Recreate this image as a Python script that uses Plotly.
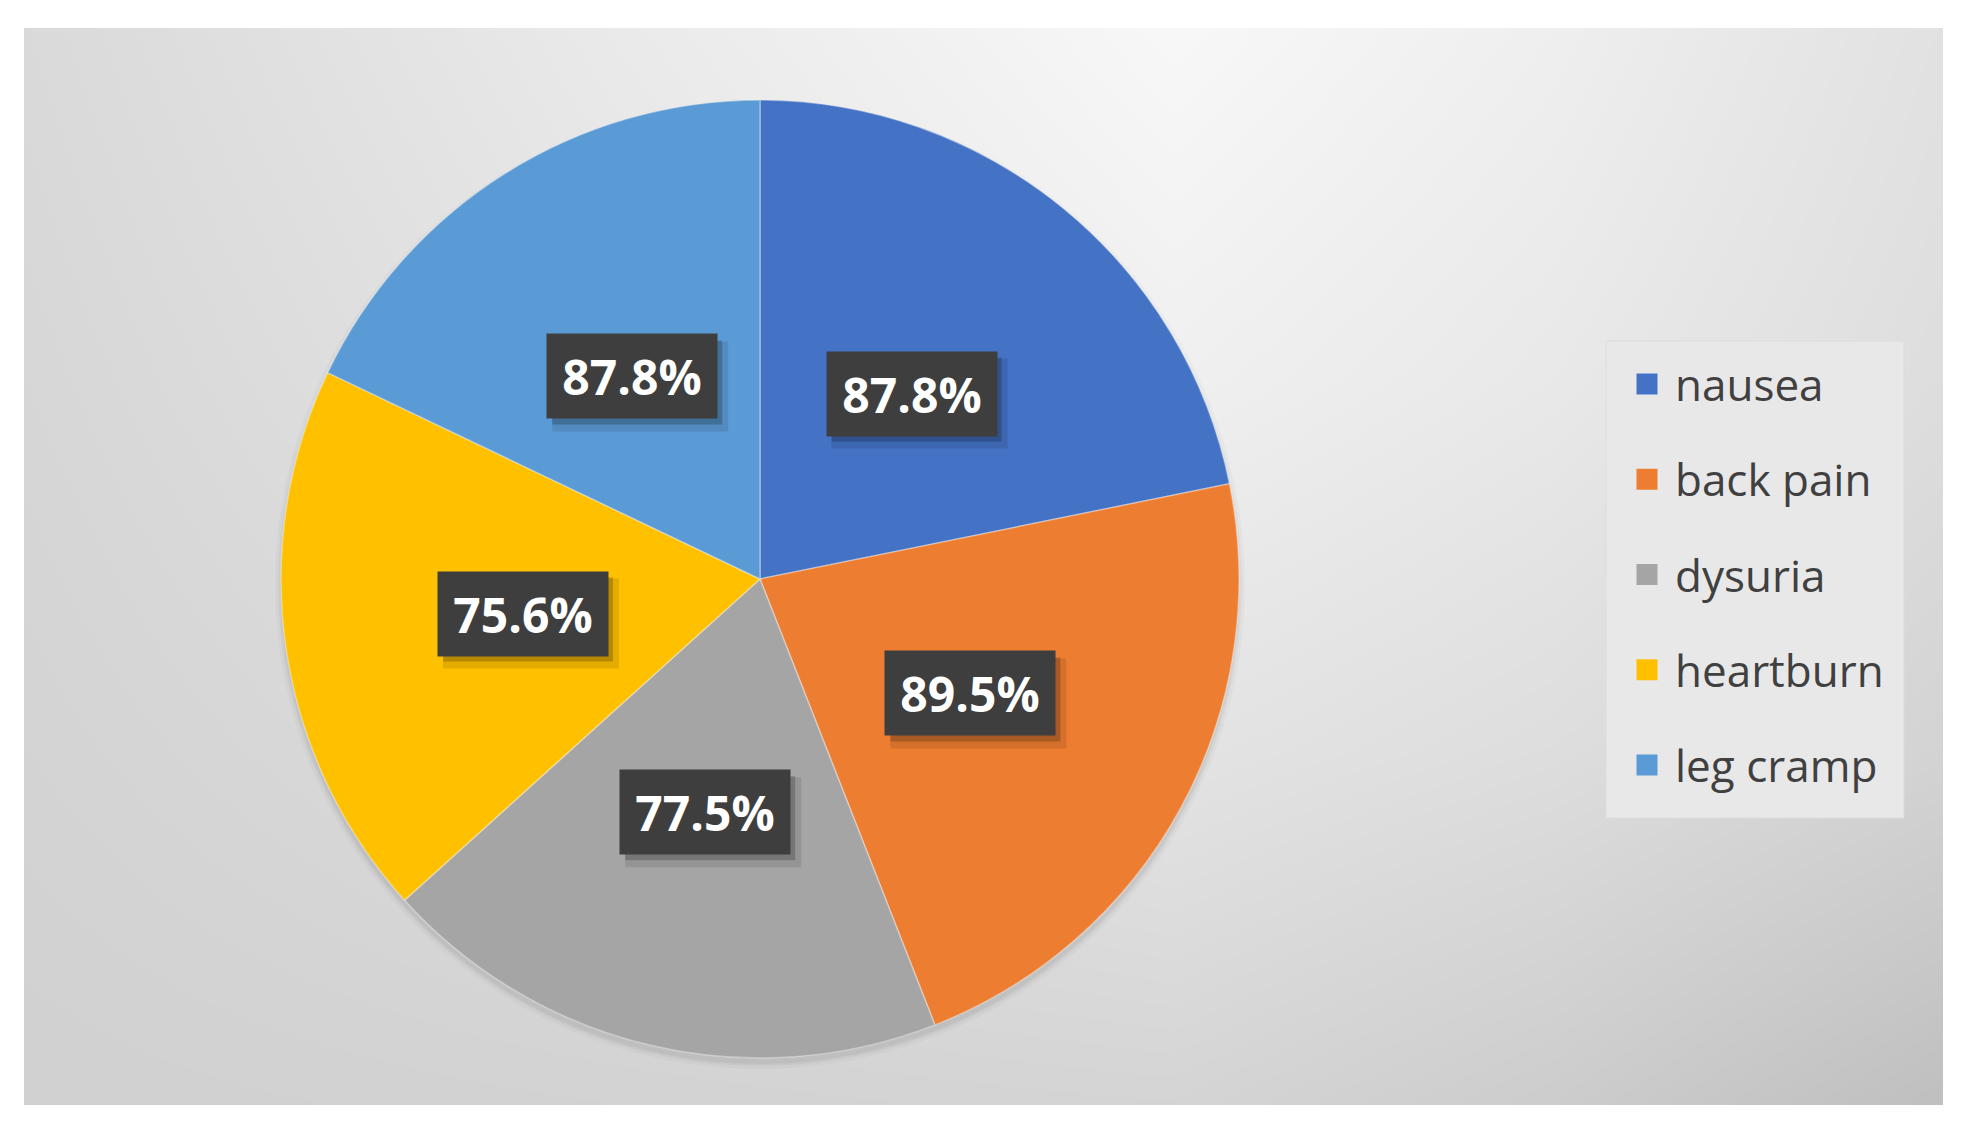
import base64
import math
import struct
import zlib

import numpy as np
import plotly.graph_objects as go

# ---------------- data ----------------
categories = ["nausea", "back pain", "dysuria", "heartburn", "leg cramp"]
slice_values = [87.8, 89.5, 77.5, 75.6, 72.1]          # slice sizes
label_values = [87.8, 89.5, 77.5, 75.6, 87.8]          # printed data labels
colors = ["#4472C4", "#ED7D31", "#A5A5A5", "#FFC000", "#5B9BD5"]

# page is 1968x1132, the html body adds an 8px margin around the figure
OFF = 8
W, H = 1968 - 2 * OFF, 1132 - 2 * OFF


def fx(xp):   # page pixel x -> paper
    return (xp - OFF) / W


def fy(yp):   # page pixel y (from top) -> paper
    return 1 - (yp - OFF) / H


# ---------------- background gradient image ----------------
grid_u = [0.0, 0.3, 0.6, 0.8, 1.0]
grid_v = [0.0, 0.33, 0.67, 1.0]
grid_c = np.array([
    [218, 234, 248, 239, 226],
    [215, 228, 240, 233, 222],
    [212, 220, 228, 222, 212],
    [209, 211, 213, 205, 192],
], dtype=float)


def gradient_png(w=480, h=270):
    us = np.linspace(0, 1, w)
    vs = np.linspace(0, 1, h)
    cols = np.array([np.interp(vs, grid_v, grid_c[:, j]) for j in range(len(grid_u))]).T
    img = np.array([np.interp(us, grid_u, cols[i]) for i in range(h)])
    img = np.clip(img, 0, 255).astype(np.uint8)
    rgb = np.stack([img, img, img], axis=-1)
    raw = b"".join(b"\x00" + rgb[y].tobytes() for y in range(h))

    def chunk(tag, data):
        return struct.pack(">I", len(data)) + tag + data + struct.pack(">I", zlib.crc32(tag + data) & 0xFFFFFFFF)

    png = (b"\x89PNG\r\n\x1a\n"
           + chunk(b"IHDR", struct.pack(">IIBBBBB", w, h, 8, 2, 0, 0, 0))
           + chunk(b"IDAT", zlib.compress(raw, 9))
           + chunk(b"IEND", b""))
    return "data:image/png;base64," + base64.b64encode(png).decode()


# ---------------- pie geometry (layout, page pixels) ----------------
pie_cx, pie_cy, pie_r = 760, 579, 479
dom_x = [fx(pie_cx - pie_r), fx(pie_cx + pie_r)]
dom_y = [fy(pie_cy + pie_r), fy(pie_cy - pie_r)]

fig = go.Figure()

fig.add_trace(go.Pie(
    labels=categories,
    values=slice_values,
    sort=False,
    direction="clockwise",
    rotation=0,
    marker=dict(colors=colors, line=dict(color="rgba(255,255,255,0.35)", width=1.5)),
    textinfo="none",
    hoverinfo="label+value",
    domain=dict(x=dom_x, y=dom_y),
    showlegend=False,
))

# legend entries (square swatches)
for i, (cat, col) in enumerate(zip(categories, colors)):
    fig.add_trace(go.Scatter(
        x=[None], y=[None], mode="markers", name=cat,
        marker=dict(symbol="square", size=22, color=col, line=dict(color=col, width=5)),
        legendgroup=f"g{i}", showlegend=True, hoverinfo="skip",
    ))

shapes = []

# pie drop shadow
for grow, alpha in [(6, 0.025), (3, 0.035), (1, 0.045)]:
    r = pie_r + grow
    shapes.append(dict(
        type="circle", xref="paper", yref="paper", layer="below",
        x0=fx(pie_cx - r), x1=fx(pie_cx + r),
        y0=fy(pie_cy + 5 + r), y1=fy(pie_cy + 5 - r),
        fillcolor=f"rgba(0,0,0,{alpha})", line=dict(width=0),
    ))

# data labels: dark boxes placed at mid-angle of each slice
total = sum(slice_values)
annotations = []
cum = 0.0
BOX_W, BOX_H = 170, 84
for v, lv in zip(slice_values, label_values):
    mid = (cum + v / 2) / total * 2 * math.pi
    cum += v
    px = pie_cx + 0.5 * pie_r * math.sin(mid)
    py = pie_cy - 0.5 * pie_r * math.cos(mid)
    # soft shadow behind the box
    for (dx, dy, grow, alpha) in [(8, 10, 3, 0.10), (5, 6, 0, 0.20)]:
        shapes.append(dict(
            type="rect", xref="paper", yref="paper", layer="above",
            xsizemode="pixel", ysizemode="pixel",
            xanchor=fx(px), yanchor=fy(py),
            x0=-BOX_W / 2 + dx - grow, x1=BOX_W / 2 + dx + grow,
            y0=-BOX_H / 2 - dy - grow, y1=BOX_H / 2 - dy + grow,
            fillcolor=f"rgba(0,0,0,{alpha})", line=dict(width=0),
        ))
    annotations.append(dict(
        x=fx(px), y=fy(py), xref="paper", yref="paper", text=f"{lv:.1f}%",
        showarrow=False, xanchor="center", yanchor="middle",
        width=BOX_W, height=BOX_H, align="center", valign="middle",
        font=dict(family="Open Sans", size=48, color="#FFFFFF", weight="bold"),
        bgcolor="#3E3E3E", borderpad=0,
    ))

# legend panel
shapes.append(dict(
    type="rect", xref="paper", yref="paper", layer="below",
    x0=fx(1606), x1=fx(1904), y0=fy(818), y1=fy(341),
    fillcolor="#E8E8E8", line=dict(color="#DCDCDC", width=1),
))

panel_x0, panel_y0, panel_x1, panel_y1 = 24, 28, 1943, 1105

fig.update_layout(
    width=W, height=H,
    margin=dict(l=0, r=0, t=0, b=0),
    paper_bgcolor="white",
    plot_bgcolor="rgba(0,0,0,0)",
    xaxis=dict(visible=False),
    yaxis=dict(visible=False),
    images=[dict(
        source=gradient_png(), xref="paper", yref="paper",
        x=fx(panel_x0), y=fy(panel_y0),
        sizex=(panel_x1 - panel_x0) / W, sizey=(panel_y1 - panel_y0) / H,
        xanchor="left", yanchor="top", sizing="stretch", layer="below",
    )],
    shapes=shapes,
    annotations=annotations,
    legend=dict(
        x=fx(1619), y=fy(349), xanchor="left", yanchor="top",
        bgcolor="rgba(0,0,0,0)", borderwidth=0,
        font=dict(family="Open Sans", size=44, color="#404040"),
        itemsizing="trace", itemwidth=46, traceorder="grouped", tracegroupgap=35,
        itemclick=False, itemdoubleclick=False,
    ),
    showlegend=True,
)

fig.write_html("out.html")
